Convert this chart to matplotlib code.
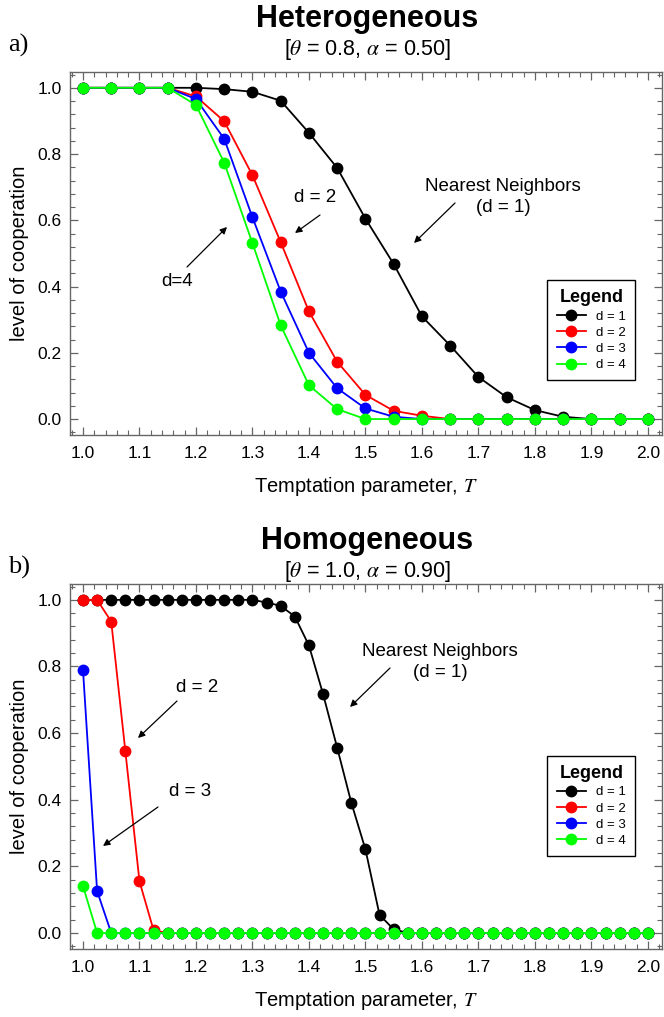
import numpy as np
import matplotlib
matplotlib.use("Agg")
import matplotlib.pyplot as plt
from matplotlib.ticker import MultipleLocator

plt.rcParams['font.family'] = ['Liberation Sans', 'DejaVu Sans']
plt.rcParams['mathtext.fontset'] = 'stix'

# panel a) heterogeneous, T step 0.05
T_het = [1.0, 1.05, 1.1, 1.15, 1.2, 1.25, 1.3, 1.35, 1.4, 1.45, 1.5,
         1.55, 1.6, 1.65, 1.7, 1.75, 1.8, 1.85, 1.9, 1.95, 2.0]
het_d1 = [1.0, 1.0, 1.0, 1.0, 1.0, 0.996, 0.988, 0.961, 0.864, 0.758, 0.605,
          0.468, 0.31, 0.222, 0.127, 0.066, 0.027, 0.007, 0.0, 0.0, 0.0]
het_d2 = [1.0, 1.0, 1.0, 1.0, 0.974, 0.899, 0.736, 0.534, 0.325, 0.173, 0.073,
          0.025, 0.01, 0.0, 0.0, 0.0, 0.0, 0.0, 0.0, 0.0, 0.0]
het_d3 = [1.0, 1.0, 1.0, 1.0, 0.966, 0.846, 0.609, 0.385, 0.2, 0.093, 0.032,
          0.007, 0.0, 0.0, 0.0, 0.0, 0.0, 0.0, 0.0, 0.0, 0.0]
het_d4 = [1.0, 1.0, 1.0, 1.0, 0.948, 0.774, 0.531, 0.283, 0.102, 0.03, 0.0,
          0.0, 0.0, 0.0, 0.0, 0.0, 0.0, 0.0, 0.0, 0.0, 0.0]

# panel b) homogeneous, T step 0.025
T_hom = [1.0, 1.025, 1.05, 1.075, 1.1, 1.125, 1.15, 1.175, 1.2, 1.225, 1.25,
         1.275, 1.3, 1.325, 1.35, 1.375, 1.4, 1.425, 1.45, 1.475, 1.5,
         1.525, 1.55, 1.575, 1.6, 1.625, 1.65, 1.675, 1.7, 1.725, 1.75,
         1.775, 1.8, 1.825, 1.85, 1.875, 1.9, 1.925, 1.95, 1.975, 2.0]
hom_d1 = [1.0, 1.0, 1.0, 1.0, 1.0, 1.0, 1.0, 1.0, 1.0, 1.0, 1.0,
          1.0, 1.0, 0.992, 0.982, 0.95, 0.863, 0.717, 0.556, 0.391, 0.251,
          0.054, 0.011] + [0.0] * 18
hom_d2 = [1.0, 1.0, 0.935, 0.546, 0.155, 0.008] + [0.0] * 35
hom_d3 = [0.79, 0.126] + [0.0] * 39
hom_d4 = [0.141] + [0.0] * 40

labels = ['d = 1', 'd = 2', 'd = 3', 'd = 4']
colors = ['black', '#ff0000', '#0000ff', '#00ff00']


def draw(ax, T, series, leg_anchor):
    for ys, c, lab in zip(series, colors, labels):
        ax.plot(T, ys, '-o', color=c, lw=1.3, ms=7.5, label=lab)
    ax.set_xlim(0.977, 2.025)
    ax.set_ylim(-0.048, 1.048)
    ax.xaxis.set_major_locator(MultipleLocator(0.1))
    ax.xaxis.set_minor_locator(MultipleLocator(0.02))
    ax.yaxis.set_major_locator(MultipleLocator(0.2))
    ax.yaxis.set_minor_locator(MultipleLocator(0.04))
    ax.tick_params(which='both', direction='in', top=True, right=True,
                   color='#666666', labelsize=12.5)
    ax.tick_params(which='major', length=6, width=0.9)
    ax.tick_params(which='minor', length=3.5, width=0.8)
    ax.tick_params(axis='x', pad=8)
    ax.tick_params(axis='y', pad=6)
    for s in ax.spines.values():
        s.set_color('#666666')
        s.set_linewidth(1.0)
    ax.set_ylabel('level of cooperation', fontsize=14.5, labelpad=6)
    ax.set_xlabel('Temptation parameter, $T$', fontsize=14.5, labelpad=10)
    leg = ax.legend(loc='lower right', bbox_to_anchor=leg_anchor,
                    title='Legend', fontsize=9.5, fancybox=False,
                    edgecolor='black', framealpha=1, handlelength=2.2,
                    labelspacing=0.3, borderpad=0.7)
    leg.get_title().set_fontweight('bold')
    leg.get_title().set_fontsize(13)
    leg.get_frame().set_linewidth(1.0)


fig = plt.figure(figsize=(6.64, 10.17), dpi=100)
ax1 = fig.add_axes([0.1054, 0.5723, 0.8916, 0.357])
ax2 = fig.add_axes([0.1054, 0.0669, 0.8916, 0.359])

draw(ax1, T_het, [het_d1, het_d2, het_d3, het_d4], (0.966, 0.132))
draw(ax2, T_hom, [hom_d1, hom_d2, hom_d3, hom_d4], (0.966, 0.236))

H = 1017.0
fig.text(0.553, 1 - 19 / H, 'Heterogeneous', ha='center', va='center',
         fontsize=22, fontweight='bold')
fig.text(0.553, 1 - 50 / H, r'[$\theta$ = 0.8, $\alpha$ = 0.50]',
         ha='center', va='center', fontsize=15.5)
fig.text(0.012, 1 - 45 / H, 'a)', ha='left', va='center', fontsize=19,
         family='Liberation Serif')
fig.text(0.553, 1 - 541 / H, 'Homogeneous', ha='center', va='center',
         fontsize=22, fontweight='bold')
fig.text(0.553, 1 - 572 / H, r'[$\theta$ = 1.0, $\alpha$ = 0.90]',
         ha='center', va='center', fontsize=15.5)
fig.text(0.012, 1 - 567 / H, 'b)', ha='left', va='center', fontsize=19,
         family='Liberation Serif')

arrow = dict(arrowstyle='-|>', color='black', lw=0.9, mutation_scale=10,
             shrinkA=0, shrinkB=0)


def note(ax, text, xy_px, xytext_px, arrow_start_px, size=13.5):
    # positions given in figure pixels (origin top-left)
    def to_fig(p):
        return (p[0] / 664.0, 1 - p[1] / H)
    ax.annotate('', xy=to_fig(xy_px), xycoords='figure fraction',
                xytext=to_fig(arrow_start_px), textcoords='figure fraction',
                arrowprops=arrow)
    ax.text(*to_fig(xytext_px), text, transform=fig.transFigure,
            ha='center', va='center', fontsize=size, linespacing=1.3)


note(ax1, 'd = 2', (295, 233), (315, 197), (320, 215))
note(ax1, 'd=4', (227, 227), (177, 282), (187, 267))
note(ax1, 'Nearest Neighbors\n(d = 1)', (414, 243), (503, 197), (455, 203))

note(ax2, 'Nearest Neighbors\n(d = 1)', (350, 707), (440, 662), (390, 668))
note(ax2, 'd = 2', (138, 738), (197, 688), (177, 701))
note(ax2, 'd = 3', (103, 846), (190, 792), (158, 807))

fig.savefig('out.png', dpi=100)
